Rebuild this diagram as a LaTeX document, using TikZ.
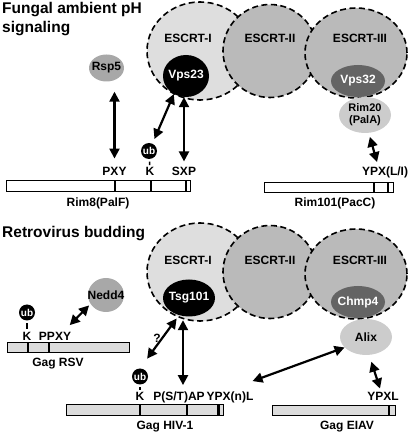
\documentclass[tikz,border=0pt]{standalone}
\usepackage{fontspec}
\setmainfont{Liberation Sans}
\usepackage{xcolor}
\usepackage{tikz}
\usetikzlibrary{arrows.meta,shapes.geometric,calc}
\definecolor{escrtlight}{RGB}{222,222,222}
\definecolor{escrtmid}{RGB}{186,186,186}
\definecolor{ligase}{RGB}{168,168,168}
\definecolor{bro}{RGB}{204,204,204}
\definecolor{snf}{RGB}{100,100,100}
\definecolor{gaggray}{RGB}{220,220,220}

\begin{document}
\begin{tikzpicture}[x=1pt, y=1pt,
    font=\bfseries\fontsize{12}{14}\selectfont,
    every node/.style={inner sep=0pt},
    escrt/.style={ellipse, draw, line width=1.6pt, dash pattern=on 6pt off 3.5pt},
    prot/.style={ellipse},
    ub/.style={circle, fill=black, text=white, minimum size=16pt, font=\bfseries\fontsize{10}{10}\selectfont},
    bar/.style={draw, line width=0.9pt},
    site/.style={line width=1.8pt},
    dbl/.style={<->, >={Triangle[length=10pt,width=10pt]}, line width=2.2pt},
    ubdash/.style={line width=1.5pt, shorten <=2.5pt, shorten >=2.5pt},
    title/.style={anchor=base west, font=\bfseries\fontsize{15.5}{18}\selectfont}]
            \useasboundingbox (0,0) rectangle (410,432);

            % Fungal ambient pH signaling
            \node[title] (titlefungal) at (2,418) {Fungal ambient pH};
            \node[title] (titlefungalb) at (2,399) {signaling};

            \node[escrt, fill=escrtlight, minimum width=106pt, minimum height=98pt] (escrtIa) at (200,381) {};
            \node[escrt, fill=escrtmid, minimum width=94pt, minimum height=93pt] (escrtIIa) at (270,381) {};
            \node[escrt, fill=escrtmid, minimum width=102pt, minimum height=90pt] (escrtIIIa) at (356,379) {};
            \node (lblIa) at (188,394) {ESCRT-I};
            \node (lblIIa) at (270,394) {ESCRT-II};
            \node (lblIIIa) at (360,394) {ESCRT-III};

            \node[prot, fill=black, minimum width=46pt, minimum height=42pt, label={[white]center:Vps23}] (vps23) at (186,356) {};
            \node[prot, fill=snf, minimum width=54pt, minimum height=32pt, label={[white]center:Vps32}] (vps32) at (358,351) {};
            \node[prot, fill=bro, minimum width=52pt, minimum height=36pt, label={[align=center, font=\bfseries\fontsize{11}{12}\selectfont]center:Rim20\\(PalA)}] (rim20) at (365,317) {};
            \node[prot, fill=ligase, minimum width=35pt, minimum height=27pt, label=center:Rsp5] (rsp5) at (106.5,364) {};

            \node[bar, fill=white, minimum width=184pt, minimum height=11pt] (rim8) at (98,246.5) {};
            \node[bar, fill=white, minimum width=129pt, minimum height=10pt] (rim101) at (328.5,245) {};
            \foreach \x in {115,151} \draw[site] (\x,241) -- (\x,252);
            \draw[site, line width=2.8pt] (186,241) -- (186,252);
            \draw[site, line width=2.4pt] (374,240) -- (374,250);
            \draw[site] (388,240) -- (388,250);

            \node[anchor=base] (pxy) at (114.5,256) {PXY};
            \node[anchor=base] (krim8) at (150,256) {K};
            \node[anchor=base] (sxp) at (184,256) {SXP};
            \node[anchor=base] (ypxli) at (385,256) {YPX(L/I)};
            \node[anchor=base] (rim8lbl) at (98,225) {Rim8(PalF)};
            \node[anchor=base] (rim101lbl) at (335,225) {Rim101(PacC)};
            \node[ub] (ubrim8) at (149,281) {ub};

            \draw[dbl, shorten <=9pt, shorten >=10pt] (pxy.north) -- (pxy.north |- rsp5.south);
            \draw[dbl, shorten <=5pt] (ubrim8.65) -- (vps23.236);
            \draw[dbl, shorten <=6pt] (sxp.north) -- (sxp.north |- vps23.south);
            \draw[dbl, shorten <=4pt] (rim20.282) -- ($(ypxli.north)+(-8,5)$);
            \draw[ubdash] (ubrim8) -- (krim8);

            % Retrovirus budding
            \node[title] (titleretro) at (2,194) {Retrovirus budding};

            \node[escrt, fill=escrtlight, minimum width=106pt, minimum height=98pt] (escrtIb) at (200,160) {};
            \node[escrt, fill=escrtmid, minimum width=94pt, minimum height=93pt] (escrtIIb) at (270,160) {};
            \node[escrt, fill=escrtmid, minimum width=102pt, minimum height=90pt] (escrtIIIb) at (356,158) {};
            \node (lblIb) at (188,172) {ESCRT-I};
            \node (lblIIb) at (270,172) {ESCRT-II};
            \node (lblIIIb) at (360,172) {ESCRT-III};

            \node[prot, fill=black, minimum width=52pt, minimum height=37pt, label={[white]center:Tsg101}] (tsg101) at (189,134) {};
            \node[prot, fill=snf, minimum width=54pt, minimum height=32pt, label={[white]center:Chmp4}] (chmp4) at (358,130) {};
            \node[prot, fill=bro, minimum width=52pt, minimum height=36pt, label=center:Alix] (alix) at (366,95) {};
            \node[prot, fill=ligase, minimum width=36pt, minimum height=34pt, label=center:Nedd4] (nedd4) at (106,137) {};

            \node[bar, fill=gaggray, minimum width=122pt, minimum height=10pt] (gagrsv) at (68,85) {};
            \node[bar, fill=gaggray, minimum width=157pt, minimum height=11pt] (gaghiv) at (144.5,22.5) {};
            \node[bar, fill=gaggray, minimum width=123pt, minimum height=10pt] (gageiav) at (333.5,22) {};
            \foreach \x in {28,49} \draw[site] (\x,80) -- (\x,90);
            \foreach \x in {140,187} \draw[site] (\x,17) -- (\x,28);
            \draw[site, line width=2.8pt] (218.5,17) -- (218.5,28);
            \draw[site, line width=2.8pt] (389,17) -- (389,27);

            \node[anchor=base] (krsv) at (27,92) {K};
            \node[anchor=base] (ppxy) at (55,92) {PPXY};
            \node[anchor=base] (rsvlbl) at (58,66) {Gag RSV};
            \node[ub] (ubrsv) at (27,119.5) {ub};
            \node[anchor=base] (khiv) at (140,31) {K};
            \node[anchor=base] (pstap) at (179,31) {P(S/T)AP};
            \node[anchor=base] (ypxnl) at (230,31) {YPX(n)L};
            \node[anchor=base] (ypxl) at (383,31) {YPXL};
            \node[anchor=base] (hivlbl) at (165,2) {Gag HIV-1};
            \node[anchor=base] (eiavlbl) at (347,2) {Gag EIAV};
            \node[ub] (ubhiv) at (140,55.5) {ub};
            \node (query) at (157,94) {?};
            \coordinate (pstapsite) at ($(pstap.north)+(4,0)$);

            \draw[dbl, shorten >=2pt] ($(ppxy.north east)+(-1.5,6.4)$) -- (nedd4.210);
            \draw[dbl, shorten <=12pt, shorten >=4pt] (ubhiv.north) -- (tsg101.240);
            \draw[dbl, shorten <=7pt, shorten >=3.5pt] (pstapsite) -- (pstapsite |- tsg101.south);
            \draw[dbl] ($(ypxnl.north east)+(-1,11)$) -- (alix.206);
            \draw[dbl, shorten >=7pt] ($(ypxl.north)+(-3,4)$) -- (alix.280);
            \draw[ubdash] (ubrsv) -- (krsv);
            \draw[ubdash] (ubhiv) -- (khiv);
        \end{tikzpicture}
\end{document}
